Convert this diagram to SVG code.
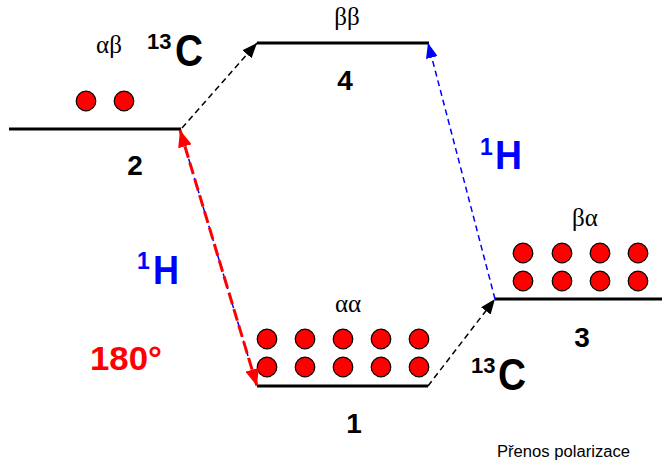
<svg xmlns="http://www.w3.org/2000/svg" width="662" height="464" viewBox="0 0 662 464">
<style>
.lvl{stroke:#000;stroke-width:3;fill:none}
.dot{fill:#ff0000;stroke:#000;stroke-width:1.2}
.num{font-family:"Liberation Sans",Arial,sans-serif;font-weight:bold;font-size:28px;fill:#000;text-anchor:middle}
.gr{font-family:"Liberation Serif","Times New Roman",serif;font-size:25px;fill:#000;text-anchor:middle}
.iso{font-family:"Liberation Sans",Arial,sans-serif;font-weight:bold}
.blk{stroke:#000;stroke-width:1.5;stroke-dasharray:6 4;fill:none}
.blu{stroke:#0000ff;stroke-width:1.5;stroke-dasharray:6 4;fill:none}
.red{stroke:#ff0000;stroke-width:3;stroke-dasharray:12 5;fill:none}
</style>
<defs>
<marker id="ahK" markerUnits="userSpaceOnUse" markerWidth="16" markerHeight="12" refX="15" refY="6" orient="auto"><path d="M0,0 L15,6 L0,12 z" fill="#000"/></marker>
<marker id="ahB" markerUnits="userSpaceOnUse" markerWidth="16" markerHeight="12" refX="15" refY="6" orient="auto"><path d="M0,0 L15,6 L0,12 z" fill="#0000ff"/></marker>
<marker id="ahR" markerUnits="userSpaceOnUse" markerWidth="18" markerHeight="14" refX="17" refY="7" orient="auto-start-reverse"><path d="M0,0 L17,7 L0,14 z" fill="#ff0000"/></marker>
</defs>

<g id="level2">
<line class="lvl" x1="9" y1="129" x2="181" y2="129"/>
<circle class="dot" cx="86" cy="101" r="9.8"/>
<circle class="dot" cx="124" cy="101" r="9.8"/>
<text class="gr" x="109" y="53">αβ</text>
<text class="num" x="135" y="175">2</text>
</g>

<g id="level4">
<line class="lvl" x1="257" y1="43" x2="429" y2="43"/>
<text class="gr" x="347" y="25">ββ</text>
<text class="num" x="345" y="90">4</text>
</g>

<g id="level1">
<line class="lvl" x1="257" y1="386" x2="428" y2="386"/>
<circle class="dot" cx="267" cy="339" r="9.8"/>
<circle class="dot" cx="305" cy="339" r="9.8"/>
<circle class="dot" cx="343" cy="339" r="9.8"/>
<circle class="dot" cx="381" cy="339" r="9.8"/>
<circle class="dot" cx="419" cy="339" r="9.8"/>
<circle class="dot" cx="267" cy="367" r="9.8"/>
<circle class="dot" cx="305" cy="367" r="9.8"/>
<circle class="dot" cx="343" cy="367" r="9.8"/>
<circle class="dot" cx="381" cy="367" r="9.8"/>
<circle class="dot" cx="419" cy="367" r="9.8"/>
<text class="gr" x="348" y="312">αα</text>
<text class="num" x="354" y="433">1</text>
</g>

<g id="level3">
<line class="lvl" x1="495" y1="299" x2="662" y2="299"/>
<circle class="dot" cx="523" cy="253" r="9.8"/>
<circle class="dot" cx="562" cy="253" r="9.8"/>
<circle class="dot" cx="600" cy="253" r="9.8"/>
<circle class="dot" cx="638" cy="253" r="9.8"/>
<circle class="dot" cx="523" cy="281" r="9.8"/>
<circle class="dot" cx="562" cy="281" r="9.8"/>
<circle class="dot" cx="600" cy="281" r="9.8"/>
<circle class="dot" cx="638" cy="281" r="9.8"/>
<text class="gr" x="585" y="226">βα</text>
<text class="num" x="582" y="347">3</text>
</g>

<g id="connectors">
<line class="blk" x1="182" y1="128" x2="257" y2="43" marker-end="url(#ahK)"/>
<line class="blk" x1="428" y1="386" x2="495" y2="299" marker-end="url(#ahK)"/>
<line class="blu" x1="495" y1="299" x2="428" y2="43" marker-end="url(#ahB)"/>
<line class="blu" x1="180" y1="130" x2="257" y2="386"/>
<line class="red" x1="180" y1="130" x2="257" y2="386" marker-start="url(#ahR)" marker-end="url(#ahR)"/>
</g>

<g id="labels">
<text class="iso" x="147" y="49" font-size="22" fill="#000">13</text>
<text class="iso" x="175" y="66" font-size="44" fill="#000" textLength="28" lengthAdjust="spacingAndGlyphs">C</text>
<text class="iso" x="471" y="373" font-size="22" fill="#000">13</text>
<text class="iso" x="498" y="390" font-size="44" fill="#000" textLength="28" lengthAdjust="spacingAndGlyphs">C</text>
<text class="iso" x="480" y="155" font-size="23" fill="#0000ff">1</text>
<text class="iso" x="495" y="169" font-size="40" fill="#0000ff" textLength="27" lengthAdjust="spacingAndGlyphs">H</text>
<text class="iso" x="137" y="269" font-size="23" fill="#0000ff">1</text>
<text class="iso" x="153" y="284" font-size="40" fill="#0000ff" textLength="26" lengthAdjust="spacingAndGlyphs">H</text>
<text class="iso" x="90" y="370" font-size="33" fill="#ff0000" textLength="72" lengthAdjust="spacingAndGlyphs">180°</text>
<text x="497" y="457" font-family="'Liberation Sans',Arial,sans-serif" font-size="16" fill="#000" textLength="133" lengthAdjust="spacingAndGlyphs">Přenos polarizace</text>
</g>
</svg>
